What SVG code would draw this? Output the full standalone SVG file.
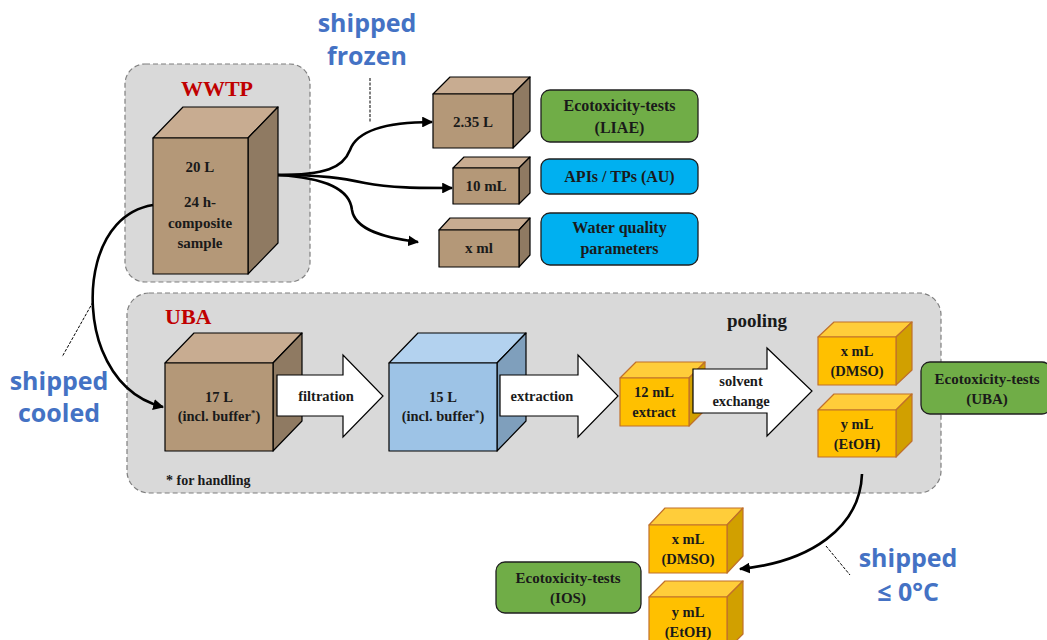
<svg xmlns="http://www.w3.org/2000/svg" width="1047" height="640" viewBox="0 0 1047 640">
  <defs>
    <marker id="arrowhead" viewBox="0 0 10 10" refX="9" refY="5" markerWidth="4.2" markerHeight="4.2" orient="auto" markerUnits="strokeWidth">
      <path d="M0,0 L10,5 L0,10 Z" fill="#000"/>
    </marker>
    <style>
      .area { fill: #d9d9d9; stroke: #7f7f7f; stroke-width: 1.2; stroke-dasharray: 5 3; }
      .site { font-family: "Liberation Serif", serif; font-weight: bold; font-size: 22px; fill: #c00000; }
      .t { font-family: "Liberation Serif", serif; font-weight: bold; font-size: 15px; fill: #1a1a1a; text-anchor: middle; }
      .t14 { font-size: 14.5px; }
      .tb { font-size: 16px; }
      .pool { font-size: 19px; }
      .note { font-family: "Liberation Serif", serif; font-weight: bold; font-size: 14px; fill: #1a1a1a; }
      .ship { font-family: "Open Sans", "Noto Sans", sans-serif; font-weight: bold; font-size: 25px; fill: #4472c4; text-anchor: middle; }
      .edge { stroke: #000; stroke-width: 1.2; stroke-linejoin: round; }
      .brown-f { fill: #b49878; } .brown-t { fill: #c8ac91; } .brown-s { fill: #8f7a62; }
      .blue-f { fill: #9dc3e6; } .blue-t { fill: #b3d2ef; } .blue-s { fill: #7f9fbc; }
      .gold { stroke: #c0702a; stroke-width: 1.2; stroke-linejoin: round; }
      .gold-f { fill: #ffc000; } .gold-t { fill: #ffcd3a; } .gold-s { fill: #d1a000; }
      .green { fill: #70ad47; stroke: #1f1f1f; stroke-width: 1.3; }
      .cyan { fill: #00b0f0; stroke: #1f1f1f; stroke-width: 1.3; }
      .fat { fill: #fff; stroke: #000; stroke-width: 1.2; stroke-linejoin: miter; }
      .flow { fill: none; stroke: #000; stroke-width: 2.6; marker-end: url(#arrowhead); }
      .tick { fill: none; stroke: #000; stroke-width: 1; stroke-dasharray: 3 1.5; }
    </style>
  </defs>

  <rect width="1047" height="640" fill="#fff"/>

  <!-- site areas -->
  <g id="wwtp-area">
    <rect class="area" x="125" y="64" width="185" height="218" rx="20"/>
    <text class="site" x="217" y="96" text-anchor="middle">WWTP</text>
  </g>
  <g id="uba-area">
    <rect class="area" x="127" y="293" width="814" height="200" rx="22"/>
    <text class="site" x="165" y="324">UBA</text>
    <text class="note" x="166" y="485">* for handling</text>
  </g>

  <!-- WWTP sample container -->
  <g id="sample-20l">
    <path class="edge brown-t" d="M153,138 L183,107 L278,107 L248,138 Z"/>
    <path class="edge brown-s" d="M248,138 L278,107 L278,243 L248,274 Z"/>
    <rect class="edge brown-f" x="153" y="138" width="95" height="136"/>
    <text class="t" x="200" y="172">20 L</text>
    <text class="t" x="200" y="207">24 h-</text>
    <text class="t" x="200" y="228">composite</text>
    <text class="t" x="200" y="248">sample</text>
  </g>

  <!-- aliquots shipped frozen -->
  <g id="aliquot-235l">
    <path class="edge brown-t" d="M433,94 L450,77 L530,77 L513,94 Z"/>
    <path class="edge brown-s" d="M513,94 L530,77 L530,131 L513,148 Z"/>
    <rect class="edge brown-f" x="433" y="94" width="80" height="54"/>
    <text class="t" x="473" y="127">2.35 L</text>
  </g>
  <g id="aliquot-10ml">
    <path class="edge brown-t" d="M453,168 L464,157 L530,157 L519,168 Z"/>
    <path class="edge brown-s" d="M519,168 L530,157 L530,193 L519,204 Z"/>
    <rect class="edge brown-f" x="453" y="168" width="66" height="36"/>
    <text class="t" x="486" y="191">10 mL</text>
  </g>
  <g id="aliquot-xml">
    <path class="edge brown-t" d="M439,230 L450,218 L530,218 L519,230 Z"/>
    <path class="edge brown-s" d="M519,230 L530,218 L530,255 L519,267 Z"/>
    <rect class="edge brown-f" x="439" y="230" width="80" height="37"/>
    <text class="t" x="479" y="253">x ml</text>
  </g>

  <!-- analyses -->
  <g id="eco-liae">
    <rect class="green" x="541" y="90" width="157" height="52" rx="9"/>
    <text class="t tb" x="619.5" y="111">Ecotoxicity-tests</text>
    <text class="t tb" x="619.5" y="133">(LIAE)</text>
  </g>
  <g id="apis-tps">
    <rect class="cyan" x="541" y="159" width="157" height="35" rx="8"/>
    <text class="t tb" x="619.5" y="182">APIs / TPs (AU)</text>
  </g>
  <g id="water-quality">
    <rect class="cyan" x="541" y="213" width="157" height="52" rx="9"/>
    <text class="t tb" x="619.5" y="233">Water quality</text>
    <text class="t tb" x="619.5" y="254">parameters</text>
  </g>

  <!-- UBA processing chain -->
  <g id="sample-17l">
    <path class="edge brown-t" d="M165,363 L194,333 L302,333 L273,363 Z"/>
    <path class="edge brown-s" d="M273,363 L302,333 L302,421 L273,451 Z"/>
    <rect class="edge brown-f" x="165" y="363" width="108" height="88"/>
    <text class="t t14" x="219" y="402">17 L</text>
    <text class="t t14" x="219" y="421">(incl. buffer<tspan font-size="9" dy="-5">*</tspan><tspan dy="5">)</tspan></text>
  </g>
  <g id="step-filtration">
    <path class="fat" d="M277,375 H343 V355 L383,396 L343,437 V416 H277 Z"/>
    <text class="t t14" x="326" y="401">filtration</text>
  </g>
  <g id="filtrate-15l">
    <path class="edge blue-t" d="M389,363 L418,333 L526,333 L497,363 Z"/>
    <path class="edge blue-s" d="M497,363 L526,333 L526,421 L497,451 Z"/>
    <rect class="edge blue-f" x="389" y="363" width="108" height="88"/>
    <text class="t t14" x="443" y="402">15 L</text>
    <text class="t t14" x="443" y="421">(incl. buffer<tspan font-size="9" dy="-5">*</tspan><tspan dy="5">)</tspan></text>
  </g>
  <g id="step-extraction">
    <path class="fat" d="M500,375 H578 V355 L618,396 L578,437 V416 H500 Z"/>
    <text class="t t14" x="542" y="401">extraction</text>
  </g>
  <g id="extract-12ml">
    <path class="gold gold-t" d="M620,378 L636,362 L705,362 L689,378 Z"/>
    <path class="gold gold-s" d="M689,378 L705,362 L705,410 L689,426 Z"/>
    <rect class="gold gold-f" x="620" y="378" width="69" height="48"/>
    <text class="t t14" x="654" y="397">12 mL</text>
    <text class="t t14" x="654" y="417">extract</text>
  </g>
  <g id="step-solvent-exchange">
    <path class="fat" d="M693,369 H767 V348 L812,391 L767,436 V413 H693 Z"/>
    <text class="t t14" x="741" y="386">solvent</text>
    <text class="t t14" x="741" y="406">exchange</text>
  </g>
  <g id="pooling-label">
    <text class="t pool" x="757" y="327">pooling</text>
  </g>
  <g id="uba-dmso">
    <path class="gold gold-t" d="M818,337 L834,322 L912,322 L896,337 Z"/>
    <path class="gold gold-s" d="M896,337 L912,322 L912,370 L896,385 Z"/>
    <rect class="gold gold-f" x="818" y="337" width="78" height="48"/>
    <text class="t t14" x="857" y="356">x mL</text>
    <text class="t t14" x="857" y="376">(DMSO)</text>
  </g>
  <g id="uba-etoh">
    <path class="gold gold-t" d="M818,410 L834,394 L912,394 L896,410 Z"/>
    <path class="gold gold-s" d="M896,410 L912,394 L912,441 L896,457 Z"/>
    <rect class="gold gold-f" x="818" y="410" width="78" height="47"/>
    <text class="t t14" x="857" y="429">y mL</text>
    <text class="t t14" x="857" y="449">(EtOH)</text>
  </g>
  <g id="eco-uba">
    <rect class="green" x="921" y="362" width="130" height="52" rx="9"/>
    <text class="t" x="987" y="384">Ecotoxicity-tests</text>
    <text class="t" x="987" y="404">(UBA)</text>
  </g>

  <!-- IOS portion -->
  <g id="ios-dmso">
    <path class="gold gold-t" d="M649,525 L665,508 L743,508 L727,525 Z"/>
    <path class="gold gold-s" d="M727,525 L743,508 L743,556 L727,573 Z"/>
    <rect class="gold gold-f" x="649" y="525" width="78" height="48"/>
    <text class="t t14" x="688" y="544">x mL</text>
    <text class="t t14" x="688" y="564">(DMSO)</text>
  </g>
  <g id="ios-etoh">
    <path class="gold gold-t" d="M649,597 L665,581 L743,581 L727,597 Z"/>
    <path class="gold gold-s" d="M727,597 L743,581 L743,634 L727,650 Z"/>
    <rect class="gold gold-f" x="649" y="597" width="78" height="53"/>
    <text class="t t14" x="688" y="617">y mL</text>
    <text class="t t14" x="688" y="637">(EtOH)</text>
  </g>
  <g id="eco-ios">
    <rect class="green" x="496" y="562" width="145" height="51" rx="9"/>
    <text class="t" x="568" y="583">Ecotoxicity-tests</text>
    <text class="t" x="568" y="603">(IOS)</text>
  </g>

  <!-- transport connectors -->
  <g id="connectors">
    <path class="flow" d="M278,175 C325,175 343,168 350,150 C358,128 392,122 432,122"/>
    <path class="flow" d="M278,175 C322,175 342,178 365,183 C390,188 420,188 452,188"/>
    <path class="flow" d="M278,175 C328,178 350,190 352,210 C355,230 385,238 418,242"/>
    <path class="flow" d="M153,205 C92,215 82,300 102,350 C115,382 135,400 163,407"/>
    <path class="flow" d="M862,474 C860,528 810,562 740,569"/>
    <path class="tick" d="M370,78 V123"/>
    <path class="tick" d="M93,302 L62,357"/>
    <path class="tick" d="M826,546 L850,575"/>
  </g>

  <!-- shipping conditions -->
  <g id="shipping-labels">
    <text class="ship" x="367" y="32">shipped</text>
    <text class="ship" x="367" y="65">frozen</text>
    <text class="ship" x="59" y="390">shipped</text>
    <text class="ship" x="59" y="422">cooled</text>
    <text class="ship" x="908" y="567">shipped</text>
    <text class="ship" x="908" y="601">≤ 0°C</text>
  </g>
</svg>
